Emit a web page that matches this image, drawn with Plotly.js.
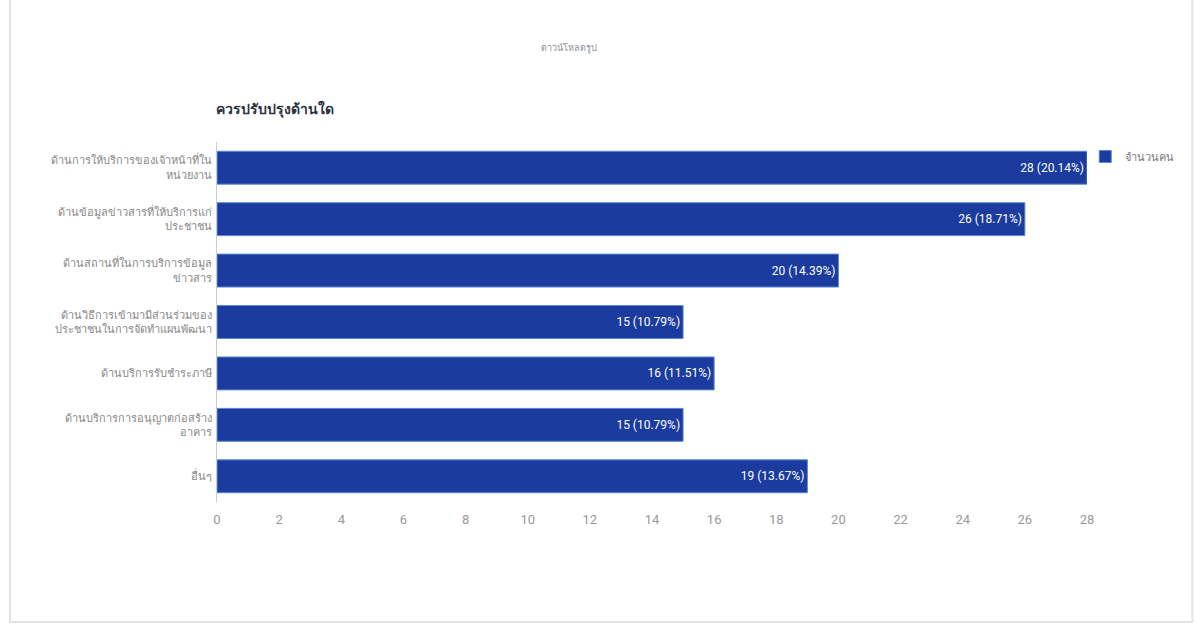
<!DOCTYPE html>
<html>
<head>
<meta charset="utf-8">
<script src="https://cdn.plot.ly/plotly-3.0.1.min.js"></script>
<style>html,body{margin:0;padding:0;background:#fff;}#chart{width:1195px;height:629px;}</style>
</head>
<body>
<div id="chart"></div>
<script>
const categories = [
  "ด้านการให้บริการของเจ้าหน้าที่ใน<br>หน่วยงาน",
  "ด้านข้อมูลข่าวสารที่ให้บริการแก่<br>ประชาชน",
  "ด้านสถานที่ในการบริการข้อมูล<br>ข่าวสาร",
  "ด้านวิธีการเข้ามามีส่วนร่วมของ<br>ประชาชนในการจัดทำแผนพัฒนา",
  "ด้านบริการรับชำระภาษี",
  "ด้านบริการการอนุญาตก่อสร้าง<br>อาคาร",
  "อื่นๆ"
];
const values = [28, 26, 20, 15, 16, 15, 19];
const percents = ["20.14%", "18.71%", "14.39%", "10.79%", "11.51%", "10.79%", "13.67%"];
const seriesName = "จำนวนคน";
const tickVals = [0, 2, 4, 6, 8, 10, 12, 14, 16, 18, 20, 22, 24, 26, 28];

const labels = values.map((v, i) => v + " (" + percents[i] + ")");

const trace = {
  type: "bar",
  orientation: "h",
  y: categories,
  x: values,
  name: seriesName,
  text: labels,
  textposition: "inside",
  insidetextanchor: "end",
  constraintext: "none",
  textfont: {color: "#ffffff", size: 12, family: "Liberation Sans Narrow, Roboto, Arial"},
  marker: {color: "#1b3c9e", line: {color: "#5a86d6", width: 1}},
  width: 0.64,
  hoverinfo: "none"
};

const layout = {
  width: 1195, height: 629,
  margin: {l: 217, r: 108, t: 142, b: 127, autoexpand: false},
  paper_bgcolor: "#ffffff",
  plot_bgcolor: "#ffffff",
  font: {family: "Noto Sans, DejaVu Sans, sans-serif", color: "#666"},
  showlegend: true,
  legend: {x: 0.998, y: 1.0, xanchor: "left", yanchor: "top", font: {size: 11, color: "#777"}, bgcolor: "rgba(0,0,0,0)", itemwidth: 30},
  xaxis: {
    range: [0, 28],
    tickvals: tickVals,
    ticktext: tickVals.map(String),
    showgrid: false,
    zeroline: false,
    showline: false,
    ticks: "",
    tickfont: {size: 13, color: "#999", family: "Liberation Sans Narrow, Roboto, Arial"},
    ticklabelstandoff: 8,
    fixedrange: true
  },
  yaxis: {
    autorange: "reversed",
    showgrid: false,
    zeroline: false,
    showline: true,
    linecolor: "#c8cdd4",
    linewidth: 1,
    ticks: "",
    ticklabelstandoff: 2,
    tickfont: {size: 11, color: "#888"},
    fixedrange: true
  },
  annotations: [
    {text: "ควรปรับปรุงด้านใด", xref: "paper", yref: "paper", x: -0.003, y: 1.0, yshift: 34, xanchor: "left", yanchor: "middle", showarrow: false, font: {size: 14, color: "#2a3140", family: "Noto Sans, DejaVu Sans, sans-serif", weight: "bold"}},
    {text: "ดาวน์โหลดรูป", xref: "paper", yref: "paper", x: 0.405, y: 1.0, yshift: 95, xanchor: "center", yanchor: "middle", showarrow: false, font: {size: 9, color: "#8a8f99"}}
  ],
  shapes: [
    {type: "rect", xref: "paper", yref: "paper", x0: -0.238, x1: 1.121, y0: -0.333, y1: 1.5, line: {color: "#dfe3e8", width: 2}, fillcolor: "rgba(0,0,0,0)", layer: "below"}
  ]
};

Plotly.newPlot("chart", [trace], layout, {displayModeBar: false, staticPlot: true});
</script>
</body>
</html>
